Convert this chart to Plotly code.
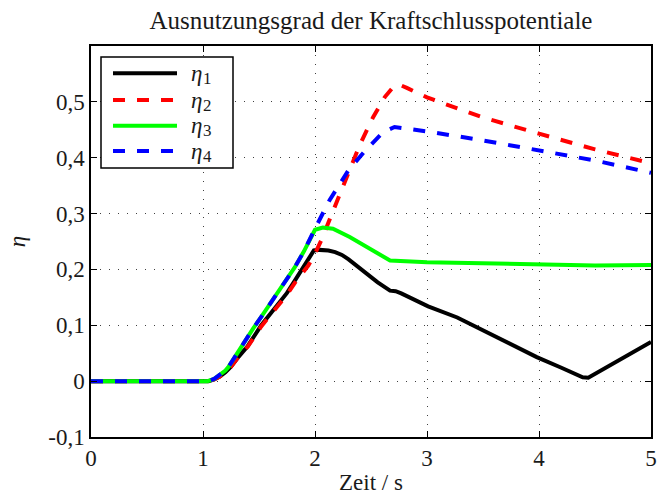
import plotly.graph_objects as go

# --- data -------------------------------------------------------------
t1 = [0, 1.05, 1.10, 1.15, 1.20, 1.25, 1.315, 1.40, 1.52, 1.60, 1.67, 1.75, 1.82, 1.90, 1.99,
      2.04, 2.12, 2.18, 2.24, 2.30, 2.37, 2.46, 2.56, 2.67, 2.72, 2.77, 2.90, 3.01, 3.27, 3.60, 3.98,
      4.20, 4.39, 4.44, 4.70, 5.0]
eta1 = [0, 0, 0.003, 0.008, 0.016, 0.026, 0.043, 0.063, 0.100, 0.120, 0.139, 0.158, 0.180, 0.205, 0.234,
        0.235, 0.234, 0.231, 0.226, 0.218, 0.207, 0.192, 0.177, 0.162, 0.161, 0.157, 0.145, 0.134, 0.114, 0.081, 0.043,
        0.024, 0.007, 0.006, 0.036, 0.070]

t2 = [0, 1.05, 1.10, 1.15, 1.20, 1.25, 1.315, 1.40, 1.52, 1.60, 1.67, 1.75, 1.82, 1.94, 2.00,
      2.06, 2.16, 2.25, 2.40, 2.52, 2.625, 2.70, 2.75, 2.82, 2.94, 3.00, 3.29, 3.50, 4.00, 4.50, 5.0]
eta2 = [0, 0, 0.003, 0.008, 0.016, 0.026, 0.043, 0.062, 0.098, 0.117, 0.135, 0.155, 0.176, 0.207, 0.228,
        0.254, 0.304, 0.350, 0.423, 0.473, 0.509, 0.527, 0.531, 0.525, 0.513, 0.508, 0.487, 0.472, 0.443, 0.415, 0.390]

t3 = [0, 1.04, 1.10, 1.15, 1.20, 1.226, 1.30, 1.375, 1.45, 1.52, 1.60, 1.67, 1.75, 1.82, 1.90, 1.96,
      2.00, 2.07, 2.16, 2.31, 2.46, 2.58, 2.67, 3.00, 3.50, 4.00, 4.50, 5.0]
eta3 = [0, 0, 0.004, 0.011, 0.019, 0.025, 0.049, 0.073, 0.095, 0.115, 0.138, 0.160, 0.182, 0.204, 0.232, 0.255,
        0.271, 0.275, 0.273, 0.258, 0.240, 0.225, 0.216, 0.213, 0.211, 0.2085, 0.207, 0.208]

t4 = [0, 1.04, 1.10, 1.15, 1.20, 1.226, 1.30, 1.375, 1.45, 1.52, 1.60, 1.67, 1.75, 1.82, 1.90, 1.96,
      2.00, 2.13, 2.30, 2.45, 2.61, 2.71, 2.82, 3.00, 3.50, 4.00, 4.50, 5.0]
eta4 = [0, 0, 0.004, 0.011, 0.019, 0.025, 0.049, 0.073, 0.095, 0.115, 0.138, 0.160, 0.182, 0.204, 0.232, 0.255,
        0.273, 0.324, 0.378, 0.413, 0.446, 0.455, 0.452, 0.447, 0.431, 0.413, 0.395, 0.373]

series_symbol = "η"
series_index = ["1", "2", "3", "4"]
series_colors = ["#000000", "#ff0000", "#00ff00", "#0000ff"]
series_dash = ["solid", "12px,12px", "solid", "12px,12px"]

x_ticks = [0, 1, 2, 3, 4, 5]
x_tick_text = ["0", "1", "2", "3", "4", "5"]
y_ticks = [-0.1, 0, 0.1, 0.2, 0.3, 0.4, 0.5]
y_tick_text = ["-0,1", "0", "0,1", "0,2", "0,3", "0,4", "0,5"]

title_text = "Ausnutzungsgrad der Kraftschlusspotentiale"
x_title = "Zeit / s"
y_title = "η"

# --- figure -----------------------------------------------------------
W, H = 659, 495
ML, MR, MT, MB = 91, 8, 46, 58
PW, PH = W - ML - MR, H - MT - MB
FONT = "'Liberation Serif', 'DejaVu Serif', serif"
TXT = "#1a1a1a"


def px_x(x):
    return (x - ML) / PW


def px_y(y):
    return (H - MB - y) / PH


fig = go.Figure()
for t, v, c, d in zip([t1, t2, t3, t4], [eta1, eta2, eta3, eta4], series_colors, series_dash):
    fig.add_trace(go.Scatter(x=t, y=v, mode="lines", showlegend=False,
                             line=dict(color=c, width=4, dash=d), hoverinfo="skip"))

axis_common = dict(
    showline=True, linecolor="#000000", linewidth=1.5, mirror="ticks",
    ticks="inside", ticklen=6, tickwidth=1, tickcolor="#000000",
    showgrid=True, gridcolor="rgba(0,0,0,0.75)", gridwidth=1, griddash="1px,8px",
    zeroline=False, tickfont=dict(family=FONT, size=23, color=TXT),
    automargin=False,
)

fig.update_xaxes(range=[0, 5], tickvals=x_ticks, ticktext=x_tick_text,
                 title=dict(text=x_title, standoff=4, font=dict(family=FONT, size=23, color=TXT)),
                 **axis_common)
fig.update_yaxes(range=[-0.1, 0.6], tickvals=y_ticks, ticktext=y_tick_text,
                 title=dict(text=y_title, standoff=16,
                            font=dict(family=FONT, size=23, color=TXT, style="italic")),
                 **axis_common)

# legend box drawn with shapes; labels are an italic eta plus a smaller index
shapes = [dict(type="rect", xref="paper", yref="paper",
               x0=px_x(101), x1=px_x(233), y0=px_y(168), y1=px_y(57),
               line=dict(color="#000000", width=1.5), fillcolor="white", layer="above")]
annotations = []
rows = [73.3, 100, 125.7, 151]
for idx, c, d, ry in zip(series_index, series_colors, series_dash, rows):
    shapes.append(dict(type="line", xref="paper", yref="paper",
                       x0=px_x(113), x1=px_x(177), y0=px_y(ry), y1=px_y(ry),
                       line=dict(color=c, width=4, dash=d), layer="above"))
    annotations.append(dict(xref="paper", yref="paper", x=px_x(189), y=px_y(ry),
                            xanchor="left", yanchor="middle", showarrow=False,
                            text=series_symbol,
                            font=dict(family=FONT, size=23, color=TXT, style="italic")))
    annotations.append(dict(xref="paper", yref="paper", x=px_x(201), y=px_y(ry + 5),
                            xanchor="left", yanchor="middle", showarrow=False,
                            text=idx, font=dict(family=FONT, size=17, color=TXT)))

fig.update_layout(
    width=W, height=H,
    margin=dict(l=ML, r=MR, t=MT, b=MB),
    paper_bgcolor="white", plot_bgcolor="white",
    title=dict(text=title_text, x=0.5, xref="paper", xanchor="center",
               y=1 - 20 / H, yref="container", yanchor="middle",
               font=dict(family=FONT, size=25, color=TXT)),
    shapes=shapes, annotations=annotations,
    showlegend=False,
)

fig.write_html("out.html")
